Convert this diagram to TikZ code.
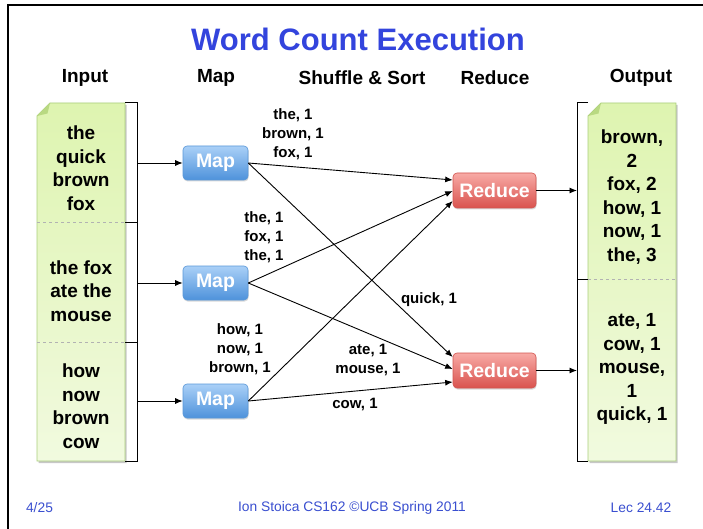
\documentclass[tikz,border=0pt]{standalone}
\usepackage{fontspec}
\setmainfont{Liberation Sans}
\usetikzlibrary{arrows.meta,shadows,calc}
\definecolor{titleblue}{HTML}{3344DD}
\definecolor{footblue}{HTML}{3A4FD0}
\definecolor{maptop}{HTML}{AAD0F7}
\definecolor{mapbot}{HTML}{4E92DB}
\definecolor{mapedge}{HTML}{5A98D8}
\definecolor{redtop}{HTML}{F8AAA6}
\definecolor{redbot}{HTML}{D9534E}
\definecolor{rededge}{HTML}{D25550}
\definecolor{doctop}{HTML}{DEF4B0}
\definecolor{docbot}{HTML}{F1FADF}
\definecolor{docedge}{HTML}{AACF7C}
\definecolor{docfold}{HTML}{B9D982}
\tikzset{
  arr/.style={-{Latex[length=7.5pt,width=6pt]}, line width=0.9pt},
  bracketline/.style={line width=1pt},
  mapbox/.style={rounded corners=4pt, top color=maptop, bottom color=mapbot, draw=mapedge, line width=0.6pt,
     minimum width=65pt, minimum height=34pt, inner sep=0pt, text=white, font=\fontsize{19.5}{21}\selectfont\bfseries,
     drop shadow={shadow xshift=0.6pt, shadow yshift=-1.5pt, opacity=0.3}},
  redbox/.style={mapbox, top color=redtop, bottom color=redbot, draw=rededge, minimum width=83pt, minimum height=35pt},
  head/.style={font=\fontsize{19}{22}\selectfont\bfseries},
  doctext/.style={align=center, font=\fontsize{19}{23.5}\selectfont\bfseries},
  lbl/.style={align=center, font=\fontsize{15}{19}\selectfont\bfseries},
  foot/.style={text=footblue, font=\fontsize{13.8}{15}\selectfont},
}
\newcommand\drawdocpaper[4]{% x1 y1 x2 y2
  \fill[black,opacity=0.22] (#1+1.5,#2+13+2) -- (#1+13+1.5,#2+2) -- (#3+1.5,#2+2) -- (#3+1.5,#4+2) -- (#1+1.5,#4+2) -- cycle;
  \shade[top color=doctop, bottom color=docbot, draw=docedge, line width=0.8pt]
    (#1,#2+13) -- (#1+13,#2) -- (#3,#2) -- (#3,#4) -- (#1,#4) -- cycle;
  \fill[docfold] (#1,#2+13) -- (#1+13,#2) -- (#1+10.5,#2+10.5) -- cycle;
}
\begin{document}
\begin{tikzpicture}[x=1pt,y=-1pt]
\useasboundingbox (0,0) rectangle (703,529);
\fill[white] (0,0) rectangle (703,529);
% frame
\draw[line width=2.5pt] (8,529) -- (8,5) -- (703,5);

% title and headers
\node[text=titleblue, font=\fontsize{31}{34}\selectfont\bfseries] (title) at (358,39) {Word Count Execution};
\node[head] (hin) at (85,78) {Input};
\node[head] (hmap) at (216,78) {Map};
\node[head] (hss) at (362,78) {Shuffle \& Sort};
\node[head] (hred) at (495,78) {Reduce};
\node[head] (hout) at (641,78) {Output};

% input document
\drawdocpaper{37}{103}{125}{461}
\draw[gray!60, dashed, line width=0.6pt] (37,222.5) -- (125,222.5);
\draw[gray!60, dashed, line width=0.6pt] (37,342) -- (125,342);
\node[doctext] (in1) at (81,168) {the\\quick\\brown\\fox};
\node[doctext] (in2) at (81,291) {the fox\\ate the\\mouse};
\node[doctext] (in3) at (81,406) {how\\now\\brown\\cow};

% input brackets
\draw[bracketline] (125,103) -- (137,103) -- (137,222.5) -- (125,222.5);
\draw[bracketline] (125,222.5) -- (137,222.5) -- (137,342) -- (125,342);
\draw[bracketline] (125,342) -- (137,342) -- (137,461) -- (125,461);
\coordinate (bi1) at (137,163);
\coordinate (bi2) at (137,283);
\coordinate (bi3) at (137,401);

% output document
\drawdocpaper{588}{103}{676}{461}
\draw[gray!60, dashed, line width=0.6pt] (588,279) -- (676,279);
\node[doctext] (out1) at (632,197) {brown,\\2\\fox, 2\\how, 1\\now, 1\\the, 3};
\node[doctext] (out2) at (632,369) {ate, 1\\cow, 1\\mouse,\\1\\quick, 1};

% output brackets
\draw[bracketline] (588,103) -- (577,103) -- (577,279) -- (588,279);
\draw[bracketline] (588,279) -- (577,279) -- (577,461) -- (588,461);
\coordinate (bo1) at (577,190.5);
\coordinate (bo2) at (577,370.5);

% map and reduce nodes
\node[mapbox] (m1) at (215.5,163) {Map};
\node[mapbox] (m2) at (215.5,283) {Map};
\node[mapbox] (m3) at (215.5,401) {Map};
\node[redbox] (r1) at (494.5,190.5) {Reduce};
\node[redbox] (r2) at (494.5,370.5) {Reduce};

% input arrows
\draw[arr] (bi1) -- (m1.west);
\draw[arr] (bi2) -- (m2.west);
\draw[arr] (bi3) -- (m3.west);

% shuffle arrows
\draw[arr] (m1.east) -- ([yshift=10.5pt]r1.west);
\draw[arr] (m2.east) -- ([yshift=-0.5pt]r1.west);
\draw[arr] (m3.east) -- ([yshift=-10.5pt]r1.west);
\draw[arr] (m1.east) -- ([yshift=13.5pt]r2.west);
\draw[arr] (m2.east) -- ([yshift=1.5pt]r2.west);
\draw[arr] (m3.east) -- ([yshift=-11.5pt]r2.west);

% output arrows
\draw[arr] (r1.east) -- (bo1);
\draw[arr] (r2.east) -- (bo2);

% labels
\node[lbl] (l1) at (293,134) {the, 1\\brown, 1\\fox, 1};
\node[lbl] (l2) at (264,237) {the, 1\\fox, 1\\the, 1};
\node[lbl] (l3) at (240,349) {how, 1\\now, 1\\brown, 1};
\node[lbl] (l4) at (429,300) {quick, 1};
\node[lbl] (l5) at (368,360) {ate, 1\\mouse, 1};
\node[lbl] (l6) at (355,404) {cow, 1};

% footer
\node[foot] (f1) at (39.5,508) {4/25};
\node[foot] (f2) at (352,508) {Ion Stoica CS162 ©UCB Spring 2011};
\node[foot] (f3) at (641,508) {Lec 24.42};
\end{tikzpicture}
\end{document}
